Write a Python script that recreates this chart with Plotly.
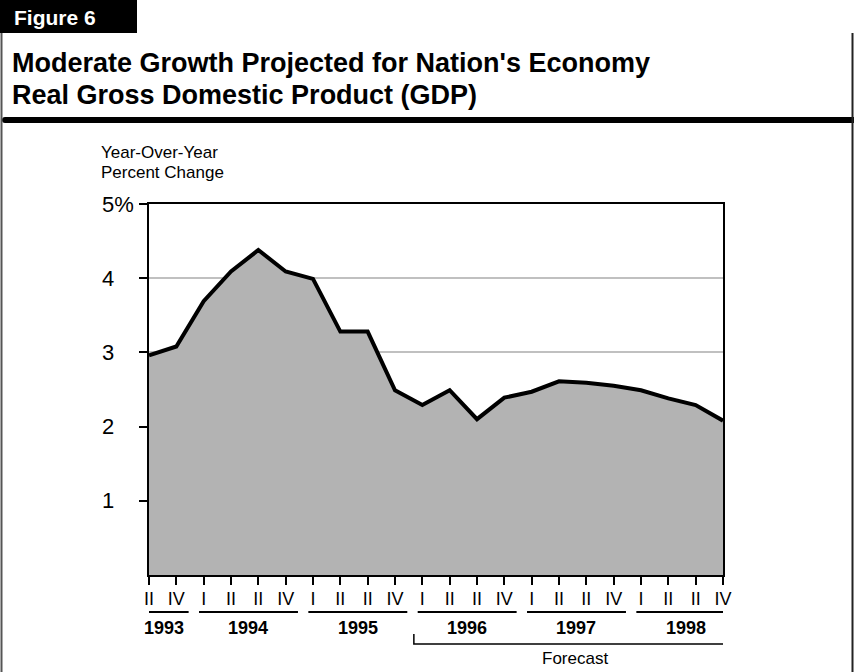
import plotly.graph_objects as go

# ---- data ----
quarter_labels = ["II", "IV",
                  "I", "II", "II", "IV",
                  "I", "II", "II", "IV",
                  "I", "II", "II", "IV",
                  "I", "II", "II", "IV",
                  "I", "II", "II", "IV"]
gdp_growth = [2.96, 3.08, 3.69, 4.09, 4.38, 4.09, 3.99, 3.28, 3.28, 2.49,
              2.29, 2.49, 2.10, 2.39, 2.47, 2.61, 2.59, 2.55, 2.49, 2.38,
              2.29, 2.08]
years = ["1993", "1994", "1995", "1996", "1997", "1998"]
year_first_idx = [0, 2, 6, 10, 14, 18]
year_last_idx = [1, 5, 9, 13, 17, 21]
ytick_vals = [1, 2, 3, 4, 5]
ytick_text = ["1", "2", "3", "4", "5%"]
forecast_start_idx = 10
forecast_end_idx = 21

FONT = "Liberation Sans, Arial, Helvetica, sans-serif"
W, H = 854, 672
L, R, T, B = 149, 131, 204, 97
PW, PH = W - L - R, H - T - B


def px_x(px):
    return (px - L) / PW


def px_y(py):
    return (H - B - py) / PH


x = list(range(len(gdp_growth)))

fig = go.Figure()
fig.add_trace(go.Scatter(
    x=x, y=gdp_growth, mode="lines", fill="tozeroy",
    fillcolor="#b3b3b3", line=dict(color="black", width=4),
    hoverinfo="skip", showlegend=False))

shapes = []
annotations = []

# Figure tab
shapes.append(dict(type="rect", xref="paper", yref="paper",
                   x0=px_x(-2), x1=px_x(137), y0=px_y(33), y1=px_y(-2),
                   fillcolor="black", line=dict(width=0), layer="above"))
annotations.append(dict(text="<b>Figure 6</b>", xref="paper", yref="paper",
                        x=px_x(12), y=px_y(17.5), xanchor="left", yanchor="middle",
                        showarrow=False, font=dict(family=FONT, size=21, color="white")))
# Titles
annotations.append(dict(text="<b>Moderate Growth Projected for Nation's Economy</b>",
                        xref="paper", yref="paper", x=px_x(10), y=px_y(63),
                        xanchor="left", yanchor="middle", showarrow=False,
                        font=dict(family=FONT, size=27, color="black")))
annotations.append(dict(text="<b>Real Gross Domestic Product (GDP)</b>",
                        xref="paper", yref="paper", x=px_x(10), y=px_y(94.5),
                        xanchor="left", yanchor="middle", showarrow=False,
                        font=dict(family=FONT, size=27, color="black")))
# thick rule
shapes.append(dict(type="line", xref="paper", yref="paper",
                   x0=px_x(5), x1=px_x(856), y0=px_y(120), y1=px_y(120),
                   line=dict(color="black", width=6)))
shapes.append(dict(type="circle", xref="paper", yref="paper",
                   x0=px_x(2), x1=px_x(8), y0=px_y(123), y1=px_y(117),
                   fillcolor="black", line=dict(width=0)))
# frame borders
shapes.append(dict(type="line", xref="paper", yref="paper",
                   x0=px_x(1.5), x1=px_x(1.5), y0=px_y(33), y1=px_y(673),
                   line=dict(color="#555555", width=2)))
shapes.append(dict(type="line", xref="paper", yref="paper",
                   x0=px_x(852.5), x1=px_x(852.5), y0=px_y(33), y1=px_y(673),
                   line=dict(color="#222222", width=2)))

# y axis title
annotations.append(dict(text="Year-Over-Year", xref="paper", yref="paper",
                        x=px_x(99), y=px_y(152), xanchor="left", yanchor="middle",
                        showarrow=False, font=dict(family=FONT, size=17, color="black")))
annotations.append(dict(text="Percent Change", xref="paper", yref="paper",
                        x=px_x(99), y=px_y(172), xanchor="left", yanchor="middle",
                        showarrow=False, font=dict(family=FONT, size=17, color="black")))
# y tick labels (left aligned)
for v, t in zip(ytick_vals, ytick_text):
    annotations.append(dict(text=t, xref="paper", yref="y", x=px_x(100), y=v,
                            xanchor="left", yanchor="middle", showarrow=False,
                            font=dict(family=FONT, size=22, color="black")))

# year underlines and labels
for yr, a, b in zip(years, year_first_idx, year_last_idx):
    x0 = a - (0.33 if a == 0 else 0.17)
    x1 = b + 0.45
    shapes.append(dict(type="line", xref="x", yref="paper", x0=x0, x1=x1,
                       y0=px_y(612), y1=px_y(612), line=dict(color="black", width=2)))
    annotations.append(dict(text="<b>%s</b>" % yr, xref="x", yref="paper",
                            x=(x0 + x1) / 2, y=px_y(628), xanchor="center", yanchor="middle",
                            showarrow=False, font=dict(family=FONT, size=18, color="black")))

# forecast bracket
fx0 = forecast_start_idx - 0.31
fx1 = forecast_end_idx + 0.47
shapes.append(dict(type="path", xref="x", yref="paper",
                   path="M %f,%f L %f,%f L %f,%f L %f,%f" % (
                       fx0, px_y(634), fx0, px_y(644), fx1, px_y(644), fx1, px_y(634)),
                   line=dict(color="black", width=1.5)))
annotations.append(dict(text="Forecast", xref="x", yref="paper",
                        x=(fx0 + fx1) / 2, y=px_y(658), xanchor="center", yanchor="middle",
                        showarrow=False, font=dict(family=FONT, size=17, color="black")))

fig.update_layout(
    width=W, height=H, autosize=False,
    margin=dict(l=L, r=R, t=T, b=B, pad=0),
    paper_bgcolor="white", plot_bgcolor="white",
    shapes=shapes, annotations=annotations,
    xaxis=dict(range=[0, len(gdp_growth) - 1], tickmode="array",
               tickvals=x, ticktext=quarter_labels,
               ticks="outside", ticklen=8, tickwidth=1.5, tickcolor="black",
               ticklabelstandoff=-2,
               showline=True, linecolor="black", linewidth=2, mirror=True,
               showgrid=False, zeroline=False, fixedrange=True,
               tickfont=dict(family=FONT, size=18, color="black")),
    yaxis=dict(range=[0, 5], tickmode="array", tickvals=ytick_vals,
               ticktext=["" for _ in ytick_vals],
               ticks="outside", ticklen=8, tickwidth=1.5, tickcolor="black",
               showline=True, linecolor="black", linewidth=2, mirror=True,
               showgrid=True, gridcolor="#c0c0c0", gridwidth=1.5,
               zeroline=False, fixedrange=True),
    showlegend=False,
)

fig.write_html(
    "out.html",
    config={"displayModeBar": False},
    post_script="document.body.style.margin='0';document.body.style.overflow='hidden';",
)
